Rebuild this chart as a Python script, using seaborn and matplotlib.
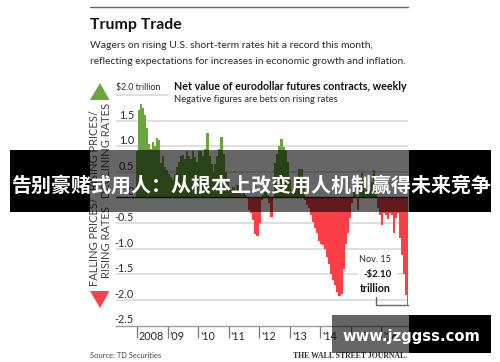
import numpy as np
import pandas as pd
import matplotlib
matplotlib.use("Agg")
import matplotlib.pyplot as plt
from matplotlib.patches import Rectangle, Polygon
from matplotlib.transforms import ScaledTranslation
import seaborn as sns

# ---- data (trillions of dollars) ----
v2008 = [0.9, 1.7, 1.82, 1.75, 1.6, 1.35, 1.05, 0.95, 1.08, 1.0, 1.16, 1.12, 0.67, 0.8, 0.6]
v2009 = [0.54, 0.45, 0.4, 0.35, 0.45, 0.6, 0.7, 0.8, 0.83, 0.75, 0.9, 0.8, 0.75, 0.9, 0.78]
v2010 = [0.7, 0.9, 0.9, 0.8, 0.95, 1.25, 0.8, 0.65, 0.5, 0.65, 0.8, 0.95, 1.18, 0.85, 0.5]
v2011 = [0.3, 0.15, 0.1, 0.2, 0.1, 0.25, 0.1, 0.05, 0.1, 0.05, 0.0, -0.25, -0.3, -0.45, -0.72]
v2012 = [-0.75, -0.5, -0.05, 0.05, 0.1, 0.05, -0.1, -0.38, -0.02, 0.67, 0.85, 1.0, 1.14, 0.98, 0.92]
v2013 = [0.7, 0.34, 0.1, 0.15, 0.25, 0.4, 0.55, 0.55, 0.35, -0.05, -0.15, -0.2, -0.35, -0.48, -0.6]
v2014 = [-0.7, -0.85, -0.9, -0.93, -1.0, -1.16, -1.3, -1.5, -1.62, -1.7, -1.85, -1.92, -1.88, -1.4, -0.9]
v2015 = [-0.7, -0.4, -0.1, 0.1, 0.05, -0.25, 0.3, 0.47, 0.25, 0.15, 0.1, 0.15, 0.3, 0.53, 0.2]
v2016 = [-0.2, -0.35, -0.53, -0.3, -0.35, -0.42, -0.3, -0.35, -0.7, -0.4, -0.3, -0.8, -1.12, -1.5, -1.9, -2.1]
year_ticks = [2008, 2009, 2010, 2011, 2012, 2013, 2014, 2015, 2016]
year_labels = ["2008", "'09", "'10", "'11", "'12", "'13", "'14", "'15", "'16"]
y_ticks = [1.5, 1.0, 0.5, 0, -0.5, -1.0, -1.5, -2.0, -2.5]
y_labels = ["1.5", "1.0", "0.5", "0", "-0.5", "-1.0", "-1.5", "-2.0", "-2.5"]

values = np.array(v2008 + v2009 + v2010 + v2011 + v2012 + v2013 + v2014 + v2015 + v2016)
dates = np.linspace(2008.0, 2016.87, len(values))
df = pd.DataFrame({"date": dates, "value": values,
                   "side": np.where(values >= 0, "long", "short")})

GREEN, RED, GRID, INK = "#6aa63c", "#fb3f46", "#d9d9d9", "#2a2a2a"
W, H = 500, 362

sns.set_theme(style="white")
plt.rcParams["font.family"] = ["Lato", "DejaVu Sans"]
fig = plt.figure(figsize=(W / 100, H / 100), dpi=100, facecolor="white")
renderer = fig.canvas.get_renderer()

def box(l, t, r, b):
    return [l / W, 1 - b / H, (r - l) / W, (b - t) / H]

ax = fig.add_axes(box(116, 95, 408, 325.5))
ax.set_facecolor("none")
sns.barplot(data=df, x="date", y="value", hue="side", native_scale=True, dodge=False,
            palette={"long": GREEN, "short": RED}, width=1.25, linewidth=0,
            legend=False, ax=ax, zorder=3, errorbar=None, saturation=1)
ax.set_xlim(2007.3126, 2016.87)
ax.set_ylim(-2.5, 2.0)
ax.set_xlabel("")
ax.set_ylabel("")
for s in ["top", "left", "right"]:
    ax.spines[s].set_visible(False)
ax.spines["bottom"].set_color("#9a9a9a")
ax.spines["bottom"].set_linewidth(1.0)

ax.set_yticks(y_ticks)
ax.set_yticklabels(y_labels, va="bottom", fontsize=7.8, color=INK)
ax.tick_params(axis="y", length=0, pad=-13)
ax.set_axisbelow(True)
for y in y_ticks:
    if y == 0 or y == -2.5:
        continue
    ax.axhline(y, color=GRID, lw=1.2, zorder=1)
ax.axhline(0, color="#222222", lw=1.0, zorder=4)

ax.set_xticks(year_ticks)
ax.set_xticklabels(year_labels, ha="left", fontsize=7.8, color=INK)
ax.tick_params(axis="x", length=8.5, width=0.9, color="#777777", pad=-4.5, bottom=True)
for t in ax.get_xticklabels():
    t.set_transform(t.get_transform() + ScaledTranslation(2 / 100, 0, fig.dpi_scale_trans))

# ---- page layer, in pixel coordinates ----
pg = fig.add_axes([0, 0, 1, 1], zorder=5)
pg.set_xlim(0, W)
pg.set_ylim(H, 0)
pg.axis("off")
pg.patch.set_alpha(0)

def fit(x, y, s, width, **kw):
    """Place text and size it so that it spans the given pixel width."""
    t = pg.text(x, y, s, fontsize=10, **{"va": "center", **kw})
    t.set_fontsize(10 * width / t.get_window_extent(renderer).width)
    return t

pg.plot([90, 408], [6.5, 6.5], color="#666666", lw=1.0)
fit(90, 25, "Trump Trade", 92, fontweight="bold", color="#111111")
fit(90, 46, "Wagers on rising U.S. short-term rates hit a record this month,", 283, color=INK)
fit(90, 61, "reflecting expectations for increases in economic growth and inflation.", 318, color=INK)
fit(174, 87, "Net value of eurodollar futures contracts, weekly", 234, fontweight="bold", color="#111111")
fit(174, 100, "Negative figures are bets on rising rates", 163, color=INK)
fit(116, 87.5, "$2.0 trillion", 44, color=INK)
pg.plot([116, 168], [95, 95], color=GRID, lw=1.2)

pg.add_patch(Polygon([(100, 83), (90, 100), (109.5, 100)], color=GREEN, lw=0))
pg.add_patch(Polygon([(90, 291), (109.5, 291), (100, 308)], color=RED, lw=0))
pg.text(100.5, 150, "RISING PRICES/\nDECLINING RATES", rotation=90, ha="center", va="center",
        fontsize=8, color="#444444", linespacing=1.0, multialignment="center")
pg.text(100.5, 242, "FALLING PRICES/\nRISING RATES", rotation=90, ha="center", va="center",
        fontsize=8, color="#444444", linespacing=1.0, multialignment="center")

pg.add_patch(Rectangle((358, 252), 39, 45, color="white", lw=0, zorder=2))
fit(359, 260, "Nov. 15", 32, color=INK, zorder=3)
fit(363, 274, "-$2.10", 28, fontweight="bold", color="#111111", zorder=3)
fit(360, 288, "trillion", 31, fontweight="bold", color="#111111", zorder=3)
pg.plot([376, 376, 408], [297, 305, 305], color="#666666", lw=1.0, zorder=3)

fit(90, 356, "Source: TD Securities", 71, color="#444444")
fit(293, 356, "THE WALL STREET JOURNAL.", 115, fontweight="bold", color="#333333",
    family=["Liberation Serif", "DejaVu Serif"])

# band and watermark
for (l, t, r, b, a) in [(10, 150, 90, 212, 1), (90, 150, 409, 212, .6), (409, 150, 491, 212, 1),
                        (332, 315, 409, 353, .6), (409, 315, 491, 353, 1)]:
    pg.add_patch(Rectangle((l, t), r - l, b - t, facecolor="black", alpha=a, lw=0, zorder=6))
fit(11, 185, "告别豪赌式用人：从根本上改变用人机制赢得未来竞争", 479, fontweight="bold", color="white",
    zorder=7, family=["Noto Sans CJK SC", "DejaVu Sans"])
fit(342, 337, "www.jzggss.com", 138, fontweight="bold", color="white", zorder=7,
    family=["DejaVu Sans"])

fig.savefig("out.png", dpi=100)
